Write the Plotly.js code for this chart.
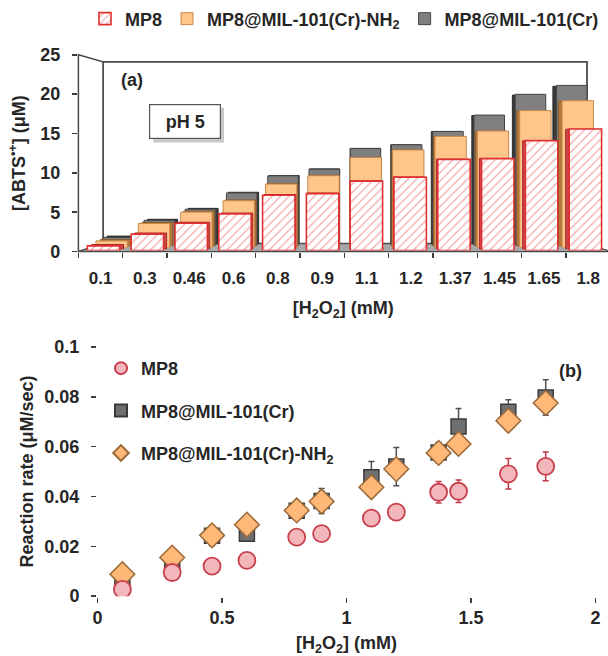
<!DOCTYPE html>
<html><head><meta charset="utf-8">
<script src="https://cdn.plot.ly/plotly-3.0.1.min.js"></script>
<style>html,body{margin:0;padding:0;background:#fff;overflow:hidden}#chart{width:608px;height:656px}</style>
</head><body><div id="chart"></div><script>
// ---------------- data ----------------
const h2o2Categories = ['0.1','0.3','0.46','0.6','0.8','0.9','1.1','1.2','1.37','1.45','1.65','1.8'];
const abtsMP8 = [0.6, 2.1, 3.5, 4.7, 7.1, 7.3, 8.9, 9.4, 11.7, 11.8, 14.1, 15.6];
const abtsNH2 = [0.9, 3.2, 4.7, 6.2, 8.4, 9.5, 11.9, 12.9, 14.7, 15.4, 18.1, 19.4];
const abtsCr  = [1.1, 3.4, 4.9, 7.1, 9.4, 10.3, 13.1, 13.6, 15.4, 17.6, 20.4, 21.6];

const h2o2Conc = [0.1, 0.3, 0.46, 0.6, 0.8, 0.9, 1.1, 1.2, 1.37, 1.45, 1.65, 1.8];
const rateMP8 = [0.0027, 0.0095, 0.0121, 0.0144, 0.0237, 0.0251, 0.0313, 0.0337, 0.0417, 0.0421, 0.0491, 0.0521];
const errMP8  = [0.0015, 0.0015, 0.0015, 0.0015, 0.0015, 0.0015, 0.002, 0.002, 0.0043, 0.0045, 0.0061, 0.0058];
const rateCr  = [0.0071, 0.0133, 0.0242, 0.0251, 0.0343, 0.0382, 0.0477, 0.0520, 0.0577, 0.0681, 0.0740, 0.0797];
const errCr   = [0.0015, 0.002, 0.004, 0.002, 0.003, 0.005, 0.0063, 0.0077, 0.004, 0.0072, 0.0048, 0.0071];
const rateNH2 = [0.0088, 0.0155, 0.0244, 0.0287, 0.0344, 0.0380, 0.0437, 0.0510, 0.0575, 0.0611, 0.0704, 0.0775];
const errNH2  = [0.002, 0.002, 0.004, 0.0035, 0.0033, 0.004, 0.002, 0.003, 0.004, 0.002, 0.002, 0.002];

const seriesNames = ['MP8', 'MP8@MIL-101(Cr)-NH<sub>2</sub>', 'MP8@MIL-101(Cr)'];

// ---------------- layout geometry ----------------
const W = 608, H = 656;
const FRONT = {xl: 78.4, xr: 610.4, y0: 250.3, y25: 53};
const BACK  = {xl: 103,  xr: 587,   y0: 242.5, y25: 60};
const YMAX = 25;
function frame(t){ const l=(a,b)=>a+(b-a)*t; return {xl:l(FRONT.xl,BACK.xl), xr:l(FRONT.xr,BACK.xr), y0:l(FRONT.y0,BACK.y0), y25:l(FRONT.y25,BACK.y25)}; }
function xAxisFor(t, extra){ const f=frame(t); const n=h2o2Categories.length; const per=(f.xr-f.xl)/n;
  const dl=Math.max(f.xl,0), dr=Math.min(f.xr,W);
  return Object.assign({domain:[dl/W, dr/W], range:[-0.5+(dl-f.xl)/per, -0.5+(dr-f.xl)/per]}, extra); }
function yAxisFor(t, extra){ const f=frame(t); return Object.assign({domain:[1-f.y0/H, 1-f.y25/H], range:[0,YMAX]}, extra); }
const px = x => (x/W).toFixed(5), py = y => (1-y/H).toFixed(5);
function poly(pts){ return 'M' + pts.map(p=>px(p[0])+','+py(p[1])).join(' L') + ' Z'; }

const FONT = {family:'Liberation Sans, Arial, sans-serif', size:18, color:'#262626', weight:'bold'};
const TICKFONT_A = Object.assign({}, FONT, {size:17});
const EDGE = '#3d3d3d';

// bar layers: back faces (darker) then front faces, far to near
const layers = [
  {t:0.95,  y:abtsCr,  name:seriesNames[2], color:'#3a3a3a', line:'#2a2a2a', show:false},
  {t:0.771, y:abtsCr,  name:seriesNames[2], color:'#7f7f7f', line:'#454545', show:true, rank:3},
  {t:0.67,  y:abtsNH2, name:seriesNames[1], color:'#b5773b', line:'#8a5a2a', show:false},
  {t:0.489, y:abtsNH2, name:seriesNames[1], color:'#ffc68c', line:'#c8884a', show:true, rank:2},
  {t:0.31,  y:abtsMP8, name:seriesNames[0], color:'#c84848', line:'#b02828', show:false},
  {t:0.133, y:abtsMP8, name:seriesNames[0], color:'#ffffff', line:'#e03030', show:true, rank:1, hatch:true},
];

const data = [];
const layout = {
  width: W, height: H, margin:{l:0,r:0,t:0,b:0},
  paper_bgcolor:'#ffffff', plot_bgcolor:'rgba(0,0,0,0)',
  bargap: 0.26, font: FONT, showlegend: true,
  shapes: [], annotations: []
};

// invisible carrier on the front (labelled) axes of panel (a)
data.push({type:'bar', x:h2o2Categories, y:abtsMP8, xaxis:'x', yaxis:'y', showlegend:false,
  marker:{color:'rgba(0,0,0,0)', line:{width:0}}, hoverinfo:'skip'});

layers.forEach((L, i) => {
  const k = i + 2;
  const tr = {
    type:'bar', x: h2o2Categories, y: L.y, name: L.name,
    xaxis:'x'+k, yaxis:'y'+k, showlegend: L.show, legend:'legend',
    marker:{color:L.color, line:{color:L.line, width: L.hatch ? 1.6 : 1}},
    hoverinfo:'skip'
  };
  if (L.rank) tr.legendrank = L.rank;
  if (L.hatch) tr.marker.pattern = {shape:'/', fgcolor:'#f2a9a9', bgcolor:'#ffffff', size:6, solidity:0.22};
  data.push(tr);
  layout['xaxis'+k] = xAxisFor(L.t, {type:'category', visible:false, anchor:'y'+k, fixedrange:true});
  layout['yaxis'+k] = yAxisFor(L.t, {visible:false, anchor:'x'+k, fixedrange:true});
});

// front (visible) axes of panel (a)
layout.xaxis = xAxisFor(0, {
  anchor:'y', type:'category', tickson:'boundaries', ticks:'outside', ticklen:5, tickcolor:EDGE, tickwidth:1.5,
  showline:true, linecolor:EDGE, linewidth:1.5, showgrid:false, zeroline:false, tickangle:0,
  tickfont:TICKFONT_A, ticklabelstandoff: 11, fixedrange:true,
  title:{text:'[H<sub>2</sub>O<sub>2</sub>] (mM)', font:FONT, standoff:14}
});
layout.yaxis = yAxisFor(0, {
  anchor:'x', dtick:5, tick0:0, ticks:'outside', ticklen:5, tickcolor:EDGE, tickwidth:1.5,
  showline:true, linecolor:EDGE, linewidth:1.5, showgrid:false, zeroline:false,
  tickfont:FONT, ticklabelstandoff: 8, fixedrange:true,
  title:{text:'[ABTS<sup>•+</sup>] (μM)', font:FONT, standoff:10}
});

// 3-D frame: back wall, left wall, floor
const b = BACK, f0 = FRONT;
layout.shapes.push({type:'path', xref:'paper', yref:'paper', layer:'below',
  path: poly([[b.xl,b.y25],[b.xr,b.y25],[b.xr,b.y0],[b.xl,b.y0]]), fillcolor:'#ffffff', line:{color:'#4a4a4a', width:1.8}});
layout.shapes.push({type:'path', xref:'paper', yref:'paper', layer:'below',
  path: poly([[f0.xl,f0.y25],[b.xl,b.y25],[b.xl,b.y0],[f0.xl,f0.y0]]), fillcolor:'#ffffff', line:{color:'#4a4a4a', width:1.5}});
layout.shapes.push({type:'path', xref:'paper', yref:'paper', layer:'below',
  path: poly([[f0.xl,f0.y0],[b.xl,b.y0],[b.xr,b.y0],[f0.xr,f0.y0]]), fillcolor:'#a8a8a8', line:{color:'#4a4a4a', width:1.2}});

// pH 5 box with shadow
layout.shapes.push({type:'rect', xref:'paper', yref:'paper', layer:'above',
  x0:px(153), x1:px(224), y0:py(141), y1:py(106), fillcolor:'#c8c8c8', line:{width:0}});
layout.annotations.push({xref:'paper', yref:'paper', x:184.5/W, y:1-119.5/H, text:'pH 5', showarrow:false,
  font:FONT, bgcolor:'#ffffff', bordercolor:'#555555', borderwidth:1.2, width:68, height:31, xanchor:'center', yanchor:'middle'});
layout.annotations.push({xref:'paper', yref:'paper', x:131.5/W, y:1-78/H, text:'(a)', showarrow:false, font:FONT, xanchor:'center', yanchor:'middle'});

// ---------------- panel (b) ----------------
const bx = 'x8', by = 'y8';
data.push({type:'scatter', mode:'markers', x:h2o2Conc, y:rateMP8, name:seriesNames[0],
  xaxis:bx, yaxis:by, legend:'legend2', legendgroup:'g1', legendrank:1, zorder:3,
  error_y:{type:'data', array:errMP8, visible:true, color:'#c03848', thickness:1.5, width:3},
  marker:{symbol:'circle', size:17, color:'#f3b7bb', line:{color:'#c8404e', width:1.8}}});
data.push({type:'scatter', mode:'markers', x:h2o2Conc, y:rateCr, name:seriesNames[2],
  xaxis:bx, yaxis:by, legend:'legend2', legendgroup:'g2', legendrank:2, zorder:1,
  error_y:{type:'data', array:errCr, visible:true, color:'#505050', thickness:1.5, width:3},
  marker:{symbol:'square', size:15, color:'#707070', line:{color:'#3a3a3a', width:1.5}}});
data.push({type:'scatter', mode:'markers', x:h2o2Conc, y:rateNH2, name:seriesNames[1],
  xaxis:bx, yaxis:by, legend:'legend2', legendgroup:'g3', legendrank:3, zorder:2,
  error_y:{type:'data', array:errNH2, visible:true, color:'#6e4a2a', thickness:1.5, width:3},
  marker:{symbol:'diamond', size:19, color:'#ffb877', line:{color:'#9a6a3a', width:1.5}}});

layout.xaxis8 = {domain:[97.5/W, 595.5/W], range:[0,2], dtick:0.5, tick0:0, anchor:by,
  ticks:'outside', ticklen:5, tickcolor:EDGE, tickwidth:1.5, showline:true, mirror:true,
  linecolor:EDGE, linewidth:1.5, showgrid:false, zeroline:false, tickfont:FONT, ticklabelstandoff:0,
  title:{text:'[H<sub>2</sub>O<sub>2</sub>] (mM)', font:FONT, standoff:31}, fixedrange:true};
layout.yaxis8 = {domain:[1-596/H, 1-346/H], range:[0,0.1], dtick:0.02, tick0:0, anchor:bx,
  ticks:'outside', ticklen:5, tickcolor:EDGE, tickwidth:1.5, showline:true, mirror:true,
  linecolor:EDGE, linewidth:1.5, showgrid:false, zeroline:false, tickfont:FONT, ticklabelstandoff:8,
  title:{text:'Reaction rate (μM/sec)', font:FONT, standoff:6}, fixedrange:true};
layout.annotations.push({xref:'paper', yref:'paper', x:570/W, y:1-370/H, text:'(b)', showarrow:false, font:FONT, xanchor:'center', yanchor:'middle'});

// legends
layout.legend = {orientation:'h', x:85/W, y:1-17/H, xanchor:'left', yanchor:'middle',
  font:FONT, bgcolor:'rgba(0,0,0,0)', traceorder:'normal'};
layout.legend2 = {x:101/W, y:1-349/H, xanchor:'left', yanchor:'top',
  font:FONT, bgcolor:'rgba(0,0,0,0)', traceorder:'grouped', tracegroupgap:16, itemsizing:'constant'};

Plotly.newPlot('chart', data, layout, {staticPlot:true, displayModeBar:false});
</script></body></html>
